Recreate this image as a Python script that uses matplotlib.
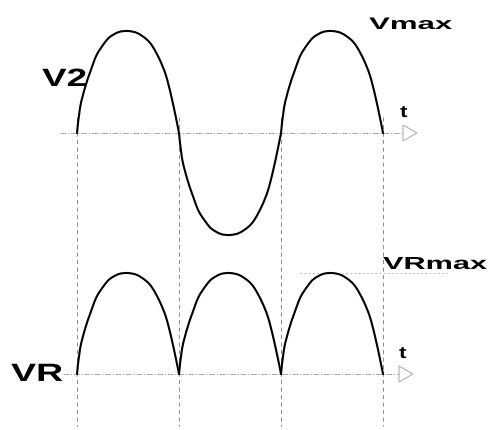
import numpy as np
import matplotlib
matplotlib.use("Agg")
import matplotlib.pyplot as plt
from matplotlib.path import Path
from matplotlib.patches import PathPatch, Polygon
from matplotlib.patheffects import AbstractPathEffect
from matplotlib.transforms import Affine2D

# ---------------- data ----------------
# zero crossings of the waveforms, in half periods
crossings = [0, 1, 2, 3]
# shape of one half-wave: phase within the half period and level / Vmax
hump_phase = [0.0, 0.03, 0.08, 0.13, 0.19, 0.26, 0.32, 0.41, 0.50,
              0.59, 0.68, 0.74, 0.81, 0.87, 0.92, 0.97, 1.0]
hump_level = [0.0, 0.25, 0.45, 0.60, 0.76, 0.87, 0.94, 0.99, 1.0,
              0.98, 0.92, 0.85, 0.72, 0.57, 0.38, 0.15, 0.0]
v2_sign = [1, -1, 1]        # input voltage V2: sine, sign of each half wave
vr_sign = [1, 1, 1]         # rectified output VR: all half waves positive
vmax = 1.0
vrmax = 0.99
labels = ["V2", "VR", "Vmax", "VRmax", "t", "t"]

# ---------------- layout ----------------
VR_BASE = -2.363            # vertical offset of the VR baseline
W, H = 489, 430

fig = plt.figure(figsize=(W / 100, H / 100), dpi=100)
ax = fig.add_axes([0, 0, 1, 1])
ax.set_xlim(-0.755, 4.039)
ax.set_ylim(-2.912, 1.304)
ax.axis("off")


class Stretch(AbstractPathEffect):
    """Stretch text horizontally around its origin."""
    def __init__(self, sx=1.0):
        super().__init__()
        self.sx = sx

    def draw_path(self, renderer, gc, tpath, affine, rgbFace=None):
        ox, oy = affine.transform(np.array([[0.0, 0.0]]))[0]
        aff = affine + Affine2D().translate(-ox, -oy).scale(self.sx, 1.0).translate(ox, oy)
        renderer.draw_path(gc, tpath, aff, rgbFace)


def smooth_path(xs, ys):
    pts = np.column_stack([xs, ys])
    n = len(pts)
    verts = [pts[0]]
    codes = [Path.MOVETO]
    for i in range(n - 1):
        p0 = pts[max(i - 1, 0)]
        p1 = pts[i]
        p2 = pts[i + 1]
        p3 = pts[min(i + 2, n - 1)]
        c1 = p1 + (p2 - p0) / 6.0
        c2 = p2 - (p3 - p1) / 6.0
        verts += [c1, c2, p2]
        codes += [Path.CURVE4] * 3
    return Path(verts, codes)


def draw_wave(signs, base, amp):
    for k, s in enumerate(signs):
        t = [crossings[k] + p * (crossings[k + 1] - crossings[k]) for p in hump_phase]
        v = [base + s * amp * lv for lv in hump_level]
        ax.add_patch(PathPatch(smooth_path(t, v), fill=False, lw=1.5,
                               ec="black", capstyle="round", joinstyle="round", zorder=5))


axis_col = "#9a9a9a"
# time axes
ax.plot([-0.167, 3.196], [0, 0], color=axis_col, lw=0.6, ls=(0, (7, 2, 1.5, 2)), zorder=2)
ax.plot([-0.137, 3.157], [VR_BASE, VR_BASE], color=axis_col, lw=0.6,
        ls=(0, (7, 2, 1.5, 2)), zorder=2)
# open arrow heads
for x0, tip, y0 in [(3.196, 3.333, 0.0), (3.157, 3.294, VR_BASE)]:
    ax.add_patch(Polygon([[x0, y0 + 0.078], [tip, y0], [x0, y0 - 0.078]], closed=True,
                         fill=False, ec="#a8a8a8", lw=0.7, zorder=3))

# vertical dashed guides at the zero crossings
for c in crossings:
    ax.plot([c, c], [0.157, -2.873], color="#7a7a7a", lw=0.6, ls=(0, (5, 4)), zorder=1)

# VRmax level
ax.plot([2.186, 3.627], [VR_BASE + vrmax, VR_BASE + vrmax], color="#a8a8a8", lw=0.6,
        ls=(0, (2, 3)), zorder=1)

draw_wave(v2_sign, 0.0, vmax)
draw_wave(vr_sign, VR_BASE, vrmax)

fam = ["Liberation Sans", "DejaVu Sans"]
# (x, y baseline-left, font size, target width in px)
label_pos = [(-0.343, 0.461, 18, 45), (-0.647, -2.431, 18, 52),
             (2.863, 1.020, 12, 83), (3.000, -1.333, 12.5, 104),
             (3.167, 0.157, 12, 7.5), (3.157, -2.206, 12, 7.5)]
texts = []
for s, (x, y, size, target) in zip(labels, label_pos):
    pe = Stretch()
    txt = ax.text(x, y, s, fontsize=size, fontweight="bold", family=fam, ha="left",
                  va="baseline", color="black", path_effects=[pe], zorder=6)
    texts.append((txt, pe, target))

fig.canvas.draw()
renderer = fig.canvas.get_renderer()
for txt, pe, target in texts:
    w = txt.get_window_extent(renderer).width
    pe.sx = target / w

fig.savefig("out.png", dpi=100)
